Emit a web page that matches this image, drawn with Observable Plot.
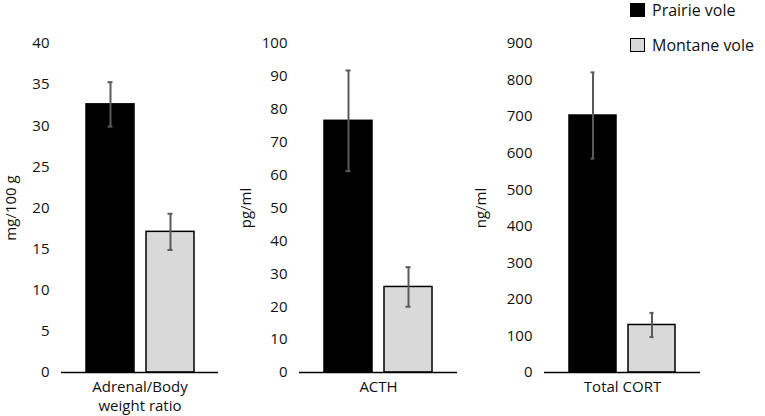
<!DOCTYPE html>
<html>
<head>
<meta charset="utf-8">
<script src="https://cdn.jsdelivr.net/npm/d3@7"></script>
<script src="https://cdn.jsdelivr.net/npm/@observablehq/plot@0.6"></script>
<style>
  html, body { margin: 0; padding: 0; background: #fff; }
  #chart { position: relative; width: 765px; height: 416px; font-family: "Open Sans", sans-serif; }
  .panel { position: absolute; top: 0; }
  .legend { position: absolute; left: 630px; top: 2px; font-size: 16px; line-height: 16px; color: #111; }
  .legend .item { display: flex; align-items: center; height: 16px; margin-bottom: 19px; }
  .legend .sw { width: 13px; height: 12px; border: 1.5px solid #000; margin-right: 7px; box-sizing: content-box; }
</style>
</head>
<body>
<div id="chart"></div>
<script>
const species = ["Prairie vole", "Montane vole"];
const colors = ["#000000", "#d9d9d9"];

const panelLabels = ["Adrenal/Body\nweight ratio", "ACTH", "Total CORT"];
const yLabels = ["mg/100 g", "pg/ml", "ng/ml"];
const yMax = [40, 100, 900];
const yStep = [5, 10, 100];

const adrenalMean = [32.6, 17.1];
const adrenalErr = [2.7, 2.2];
const acthMean = [76.5, 26.0];
const acthErr = [15.3, 6.0];
const cortMean = [703, 130];
const cortErr = [118, 33];

const means = [adrenalMean, acthMean, cortMean];
const errs = [adrenalErr, acthErr, cortErr];

// layout of each panel (left offset, width, margins)
const layout = [
  {left: 0,   width: 230, ml: 61, mr: 12},
  {left: 235, width: 230, ml: 64, mr: 8},
  {left: 470, width: 240, ml: 74, mr: 10}
];

const chart = document.getElementById("chart");

for (let p = 0; p < 3; p++) {
  const data = species.map((s, i) => ({
    species: s,
    mean: means[p][i],
    lo: means[p][i] - errs[p][i],
    hi: means[p][i] + errs[p][i]
  }));
  const L = layout[p];
  const ticks = d3.range(0, yMax[p] + 1e-9, yStep[p]);
  const svg = Plot.plot({
    width: L.width,
    height: 416,
    marginLeft: L.ml,
    marginRight: L.mr,
    marginTop: 43,
    marginBottom: 44,
    style: {fontFamily: "Open Sans, sans-serif", fontSize: "15px", color: "#111", background: "transparent"},
    x: {domain: species, paddingInner: 0.2, paddingOuter: 0.408, axis: null},
    y: {domain: [0, yMax[p]], ticks: ticks, tickSize: 0, tickPadding: 12,
        label: yLabels[p], labelAnchor: "center", labelArrow: "none", labelOffset: L.ml - 5},
    color: {domain: species, range: colors},
    marks: [
      Plot.barY(data, {x: "species", y: "mean", fill: "species", stroke: "#000", strokeWidth: 1.5}),
      Plot.ruleX(data, {x: "species", y1: "lo", y2: "hi", stroke: "#5a5a5a", strokeWidth: 2}),
      Plot.tickY(data, {x: "species", y: "lo", stroke: "#5a5a5a", strokeWidth: 2, inset: 21.5}),
      Plot.tickY(data, {x: "species", y: "hi", stroke: "#5a5a5a", strokeWidth: 2, inset: 21.5}),
      Plot.ruleY([0], {stroke: "#000", strokeWidth: 1.5}),
      Plot.text([panelLabels[p]], {text: d => d, frameAnchor: "bottom", lineAnchor: "top", dy: 6, fill: "#111", fontSize: 15, lineHeight: 1.27})
    ]
  });
  svg.classList.add("panel");
  svg.style.left = L.left + "px";
  chart.appendChild(svg);
}

// legend
const legend = document.createElement("div");
legend.className = "legend";
species.forEach((s, i) => {
  const item = document.createElement("div");
  item.className = "item";
  const sw = document.createElement("span");
  sw.className = "sw";
  sw.style.background = colors[i];
  const t = document.createElement("span");
  t.textContent = s;
  item.appendChild(sw);
  item.appendChild(t);
  legend.appendChild(item);
});
chart.appendChild(legend);
</script>
</body>
</html>
